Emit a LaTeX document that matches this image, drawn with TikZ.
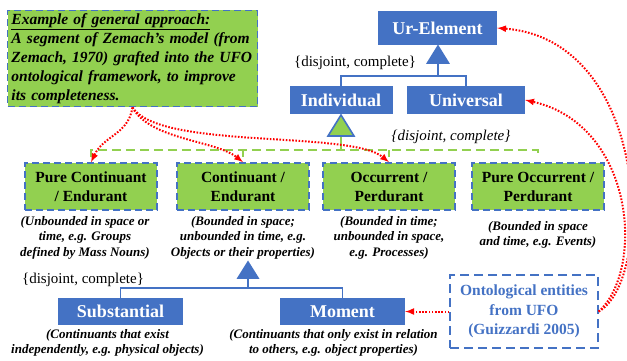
\documentclass[tikz,border=0pt]{standalone}
\usepackage{xcolor}
\usepackage{fontspec}
\setmainfont{Liberation Serif}
\usepackage{tikz}
\usetikzlibrary{shapes.geometric, arrows, positioning, calc}
\definecolor{ufoblue}{HTML}{4472C4}
\definecolor{ufogreen}{HTML}{92D050}

\begin{document}
\begin{tikzpicture}[x=1pt, y=-1pt,
    bluebox/.style={fill=ufoblue, text=white, inner sep=0pt,
        font=\fontsize{18}{21}\selectfont\bfseries},
    greenbox/.style={fill=ufogreen, draw=ufoblue, line width=1.6pt,
        dash pattern=on 7pt off 4pt, minimum width=132pt, minimum height=47pt,
        align=center, inner sep=0pt, font=\fontsize{15.5}{19}\selectfont\bfseries},
    desc/.style={align=center, inner sep=0pt,
        font=\fontsize{13}{15.5}\selectfont\bfseries\itshape},
    djc/.style={inner sep=0pt, font=\fontsize{15}{18}\selectfont},
    genline/.style={draw=ufoblue, line width=1.6pt},
    grnline/.style={draw=ufogreen, line width=1.6pt, dash pattern=on 9pt off 5pt},
    refarrow/.style={red, line width=2pt, dash pattern=on 1.6pt off 1.6pt, -latex}]

    \useasboundingbox (0,0) rectangle (627,360);

    % note
    \node[fill=ufogreen, draw=ufoblue, line width=1.6pt, dash pattern=on 7pt off 4pt,
          text width=242pt, inner xsep=4pt, inner ysep=3pt, align=left,
          font=\fontsize{15.5}{19}\selectfont\bfseries\itshape]
          (note) at (132.5,58.5)
          {\underline{Example of general approach:}\\A segment of Zemach’s model (from Zemach, 1970) grafted into the UFO ontological framework, to improve its completeness.};

    % UFO top level
    \node[bluebox, minimum width=119pt, minimum height=34pt] (urel) at (437.5,28) {Ur-Element};
    \node[bluebox, minimum width=103pt, minimum height=28pt] (indiv) at (341,100) {Individual};
    \node[bluebox, minimum width=118pt, minimum height=28pt] (univ) at (466,100) {Universal};
    \node[djc] (djc1) at (355,63) {\{disjoint, complete\}};

    % Zemach boxes
    \node[greenbox] (pce) at (91,186.5) {Pure Continuant\\/ Endurant};
    \node[greenbox] (ce)  at (243,186.5) {Continuant /\\Endurant};
    \node[greenbox] (op)  at (389,186.5) {Occurrent /\\Perdurant};
    \node[greenbox] (pop) at (538,186.5) {Pure Occurrent /\\Perdurant};
    \node[djc, font=\fontsize{15}{18}\selectfont\itshape] (djc2) at (451,137) {\{disjoint, complete\}};

    \node[desc, below=5pt of pce, xshift=-6pt] (pcedesc) {(Unbounded in space or\\time, e.g. Groups\\defined by Mass Nouns)};
    \node[desc, below=5pt of ce] (cedesc) {(Bounded in space;\\unbounded in time, e.g.\\Objects or their properties)};
    \node[desc, below=5pt of op] (opdesc) {(Bounded in time;\\unbounded in space,\\e.g. Processes)};
    \node[desc, below=10pt of pop] (popdesc) {(Bounded in space\\and time, e.g. Events)};

    % Substantial / Moment
    \node[bluebox, minimum width=125pt, minimum height=27pt] (subst) at (120.5,311.5) {Substantial};
    \node[bluebox, minimum width=125pt, minimum height=27pt] (moment) at (342.5,311.5) {Moment};
    \node[djc] (djc3) at (83,280) {\{disjoint, complete\}};
    \node[desc, below=4pt of subst, xshift=-13pt] (substdesc) {(Continuants that exist\\independently, e.g. physical objects)};
    \node[desc, below=4pt of moment, xshift=-9pt] (momentdesc) {(Continuants that only exist in relation\\to others, e.g. object properties)};

    \node[draw=ufoblue, line width=1.4pt, dash pattern=on 9pt off 5pt, minimum width=148pt,
          minimum height=73pt, align=center, text=ufoblue, inner sep=0pt,
          font=\fontsize{15.5}{19.5}\selectfont\bfseries]
          (ufo) at (524,311.5) {Ontological entities\\from UFO\\(Guizzardi 2005)};

    % generalisation Ur-Element
    \coordinate (urjoin) at (438,76);
    \filldraw[genline, fill=ufoblue] (438,46) -- (448.5,63) -- (427.5,63) -- cycle;
    \draw[genline] (438,63) -- (urjoin);
    \draw[genline] (indiv.north) |- (urjoin) -| (univ.north);

    % generalisation Individual (green)
    \coordinate (grjoin) at (341,150);
    \draw[ufogreen, line width=1.6pt] (341,136) -- (grjoin);
    \filldraw[fill=ufogreen, draw=ufoblue, line width=1.6pt] (341,115) -- (354,136) -- (328,136) -- cycle;
    \draw[grnline] ($(pce.north)+(0,-5)$) |- (grjoin) -| ($(pop.north)+(0,-5)$);
    \foreach \b in {ce, op}
        \draw[ufogreen, line width=1.6pt] (\b.north |- grjoin) -- ($(\b.north)+(0,-5)$);

    % generalisation Continuant
    \coordinate (cejoin) at (248,288);
    \filldraw[genline, fill=ufoblue] (248,262) -- (258,278) -- (238,278) -- cycle;
    \draw[genline] (248,278) -- (cejoin);
    \draw[genline] (subst.north) |- (cejoin) -| (moment.north);

    % red references
    \draw[refarrow] (ufo.west) -- (moment.east);
    \draw[refarrow] (ufo.east) .. controls (655,280) and (650,40) .. (urel.east);
    \draw[refarrow] (ufo.east) .. controls (645,270) and (635,125) .. (univ.east);
    \draw[refarrow] (note.south) .. controls (128,135) and (104,135) .. (pce.north);
    \draw[refarrow] (note.south) .. controls (150,140) and (215,140) .. (ce.north);
    \draw[refarrow] (note.south) .. controls (160,150) and (350,130) .. (op.north);
\end{tikzpicture}
\end{document}
